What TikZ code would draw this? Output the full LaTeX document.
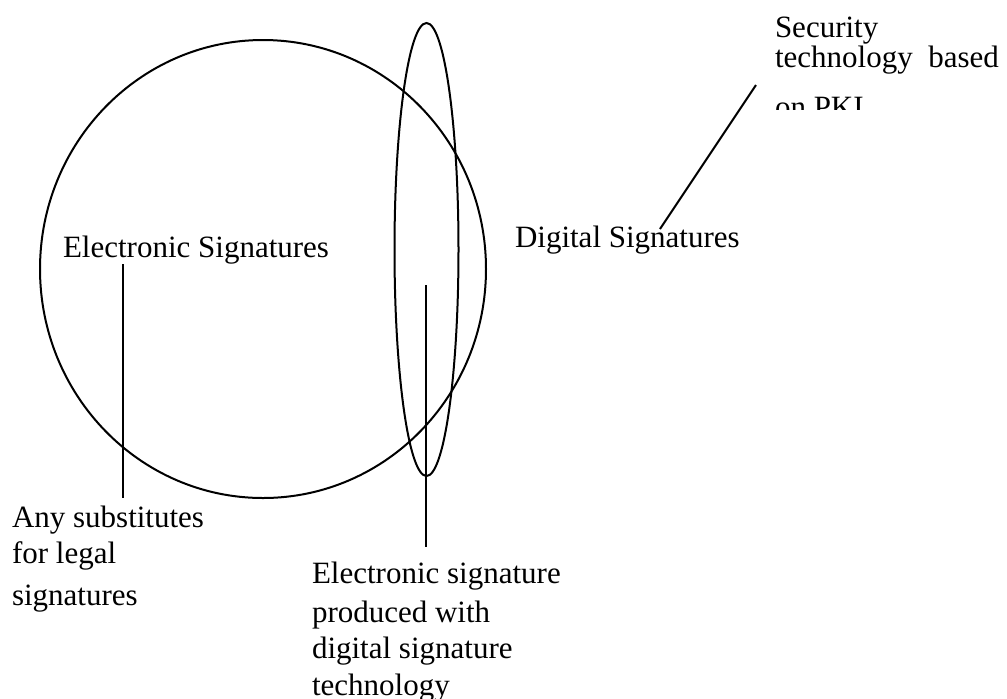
\documentclass[tikz,border=0pt]{standalone}
\usepackage{fontspec}
\setmainfont{Liberation Serif}
\begin{document}
\begin{tikzpicture}[x=0.5pt,y=-0.5pt,
  shape line/.style={draw=black,line width=1pt},
  leader/.style={draw=black,line width=1pt},
  lbl/.style={anchor=base west,inner sep=0pt,outer sep=0pt,font=\fontsize{15.5pt}{16pt}\selectfont}]
\useasboundingbox (0,0) rectangle (1007,698);
% shapes
\draw[shape line] (263,269) ellipse [x radius=223, y radius=229];
\draw[shape line] (426.5,249.5) ellipse [x radius=32, y radius=226.5];
% labels
\node[lbl] (es) at (63,257) {Electronic Signatures};
\node[lbl] (ds) at (515,247) {Digital Signatures};
\node[lbl] (sec1) at (775,37) {Security};
\node[lbl] (sec2) at (775,67) {technology\ \ based};
\begin{scope}
  \clip (700,0) rectangle (1007,109);
  \node[lbl] (sec3) at (775,117) {on PKI};
\end{scope}
\node[lbl] (any1) at (12,527) {Any substitutes};
\node[lbl] (any2) at (12,563) {for legal};
\node[lbl] (any3) at (12,605) {signatures};
\node[lbl] (esp1) at (312,583) {Electronic signature};
\node[lbl] (esp2) at (312,622) {produced with};
\node[lbl] (esp3) at (312,658) {digital signature};
\node[lbl] (esp4) at (312,695) {technology};
% leader end points
\coordinate (l1top) at (123,264);
\coordinate (l1bot) at (123,498);
\coordinate (l2top) at (426,285);
\coordinate (l2bot) at (426,547);
\coordinate (l3top) at (756,85);
\coordinate (l3bot) at (660,229);
\draw[leader] (l1top) -- (l1bot);
\draw[leader] (l2top) -- (l2bot);
\draw[leader] (l3top) -- (l3bot);
\end{tikzpicture}
\end{document}
